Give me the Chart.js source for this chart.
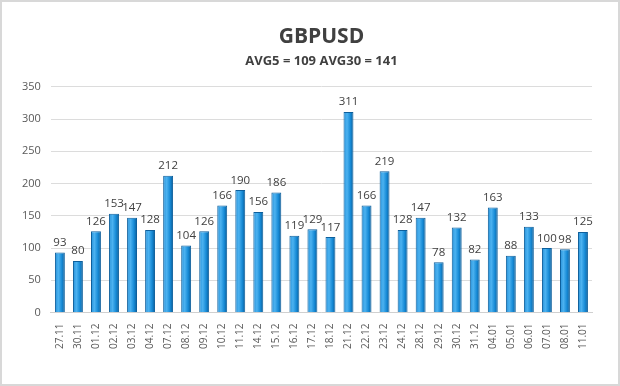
<!DOCTYPE html>
<html>
<head>
<meta charset="utf-8">
<script src="https://cdn.jsdelivr.net/npm/chart.js@4/dist/chart.umd.min.js"></script>
<style>
  body { margin: 0; background: #fff; }
  .frame { width: 616px; height: 382px; border: 2px solid #d8d8d8; }
</style>
</head>
<body>
<div class="frame"><canvas id="bar-chart" width="616" height="382"></canvas></div>
<script>
var dates = ["27.11", "30.11", "01.12", "02.12", "03.12", "04.12", "07.12", "08.12", "09.12", "10.12",
             "11.12", "14.12", "15.12", "16.12", "17.12", "18.12", "21.12", "22.12", "23.12", "24.12",
             "28.12", "29.12", "30.12", "31.12", "04.01", "05.01", "06.01", "07.01", "08.01", "11.01"];
var ranges = [93, 80, 126, 153, 147, 128, 212, 104, 126, 166,
              190, 156, 186, 119, 129, 117, 311, 166, 219, 128,
              147, 78, 132, 82, 163, 88, 133, 100, 98, 125];
var yTicks = [0, 50, 100, 150, 200, 250, 300, 350];

var FONT = "'Open Sans', 'Liberation Sans', sans-serif";

// numbers above the bars
var valueLabels = {
    id: 'valueLabels',
    afterDatasetsDraw: function(chart) {
        var ctx = chart.ctx;
        var meta = chart.getDatasetMeta(0);
        ctx.save();
        ctx.font = "11.5px " + FONT;
        ctx.fillStyle = "#404040";
        ctx.textAlign = "center";
        ctx.textBaseline = "bottom";
        meta.data.forEach(function(bar, i) {
            ctx.fillText(ranges[i], bar.x, bar.y - 4);
        });
        ctx.restore();
    }
};

function barFill(c) {
    var chart = c.chart;
    var xs = chart.scales.x;
    if (!xs || c.dataIndex == null) return "#1e8ad4";
    var x = xs.getPixelForValue(c.dataIndex);
    if (!isFinite(x)) return "#1e8ad4";
    var g = chart.ctx.createLinearGradient(x - 5, 0, x + 5, 0);
    g.addColorStop(0, "#2590d8");
    g.addColorStop(0.35, "#4cb2f0");
    g.addColorStop(0.7, "#168ad6");
    g.addColorStop(1, "#0b5a94");
    return g;
}

new Chart(document.getElementById("bar-chart"), {
    type: 'bar',
    data: {
        labels: dates,
        datasets: [{
            data: ranges,
            backgroundColor: barFill,
            borderColor: "#0d5f9c",
            borderWidth: 1,
            barPercentage: 0.55,
            categoryPercentage: 1
        }]
    },
    options: {
        responsive: false,
        animation: false,
        layout: { padding: { left: 10, right: 26, top: 6, bottom: 32 } },
        plugins: {
            legend: { display: false },
            tooltip: { enabled: false },
            title: {
                display: true,
                fullSize: false,
                text: 'GBPUSD',
                color: '#404040',
                font: { family: FONT, size: 21, weight: 'bold' },
                padding: { top: 16, bottom: 4 }
            },
            subtitle: {
                display: true,
                fullSize: false,
                text: 'AVG5 = 109 AVG30 = 141',
                color: '#404040',
                font: { family: FONT, size: 13, weight: 'bold' },
                padding: { bottom: 18 }
            }
        },
        scales: {
            x: {
                grid: { display: false },
                border: { color: '#d0d0d0' },
                ticks: {
                    color: '#595959',
                    font: { family: FONT, size: 10 },
                    minRotation: 90,
                    maxRotation: 90,
                    autoSkip: false
                }
            },
            y: {
                min: 0,
                max: 350,
                afterBuildTicks: function(axis) {
                    axis.ticks = yTicks.map(function(v) { return { value: v }; });
                },
                grid: { color: '#dcdcdc', drawTicks: false },
                border: { display: false },
                ticks: {
                    color: '#595959',
                    font: { family: FONT, size: 11 },
                    padding: 10
                }
            }
        }
    },
    plugins: [valueLabels]
});
</script>
</body>
</html>
